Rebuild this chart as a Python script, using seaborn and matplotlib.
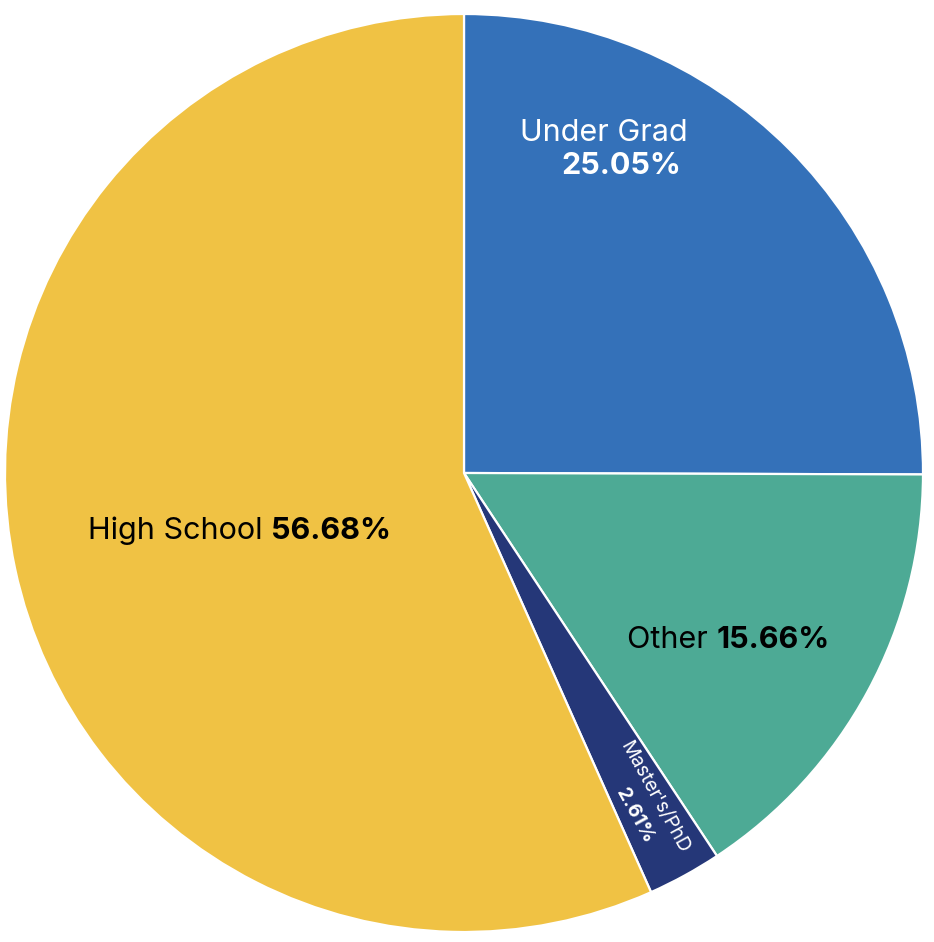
import numpy as np
import matplotlib
matplotlib.use("Agg")
import matplotlib.pyplot as plt
import seaborn as sns

# Data
categories = ["Under Grad", "Other", "Master's/PhD", "High School"]
shares = [25.05, 15.66, 2.61, 56.68]
slice_colors = ["#3471b9", "#4daa95", "#253778", "#f0c244"]

sns.set_theme(style="white")
plt.rcParams['font.family'] = ['Inter', 'DejaVu Sans']

W, H = 934, 942
cx, cy, R = 464, 473, 459  # pie centre / radius in pixels

fig = plt.figure(figsize=(W / 100, H / 100), dpi=100)
ax = fig.add_axes([0, 0, 1, 1])
palette = sns.color_palette(slice_colors)

wedges, _ = ax.pie(shares, colors=palette, startangle=90, counterclock=False,
                   radius=1, wedgeprops=dict(edgecolor="white", linewidth=1.6))
ax.set_xlim(-cx / R, (W - cx) / R)
ax.set_ylim(-(H - cy) / R, cy / R)
ax.set_aspect("equal")
ax.axis("off")


def polar(r, deg):
    a = np.deg2rad(deg)
    return r * np.cos(a), r * np.sin(a)


def mid(w):
    return (w.theta1 + w.theta2) / 2


fs = 22

# Under Grad (two lines, white)
ug = wedges[0]
x, y = polar(0.80, mid(ug) + 22.7)
ax.text(x, y, "Under Grad", ha="center", va="center", color="white", fontsize=fs)
x, y = polar(0.752, mid(ug) + 18.0)
ax.text(x, y, f"{shares[0]:.2f}%", ha="center", va="center", color="white",
        fontsize=fs, fontweight="bold")


def inline_label(name, val, x, y):
    t = ax.text(x, y, name + " ", ha="left", va="baseline", color="black", fontsize=fs)
    ax.annotate(f"{val:.2f}%", xy=(1, 0), xycoords=t, ha="left", va="bottom",
                color="black", fontsize=fs, fontweight="bold")


# Other
ot = wedges[1]
x, y = polar(0.66, mid(ot) - 3.4)
inline_label(categories[1], shares[1], x - 0.206, y - 0.033)

# High School
hs = wedges[3]
x, y = polar(0.5, mid(hs))
inline_label(categories[3], shares[3], x - 0.330, y - 0.040)

# Master's/PhD (rotated, white)
ms = wedges[2]
ang = mid(ms)
x, y = polar(0.82, ang + 1.7)
ax.text(x, y, categories[2], ha="center", va="center", rotation=ang,
        rotation_mode="anchor", color="white", fontsize=14)
x, y = polar(0.833, ang - 2.3)
ax.text(x, y, f"{shares[2]:.2f}%", ha="center", va="center", rotation=ang,
        rotation_mode="anchor", color="white", fontsize=14, fontweight="bold")

fig.savefig("out.png", dpi=100, facecolor="white")
